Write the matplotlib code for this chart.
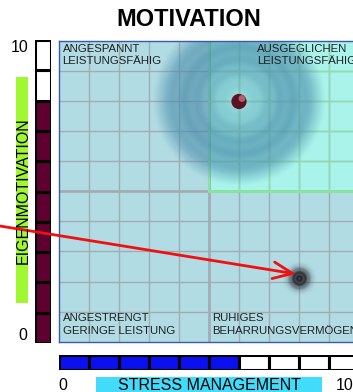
import numpy as np
import matplotlib.pyplot as plt
from matplotlib.patches import Rectangle

plt.rcParams['font.family'] = ['Liberation Sans', 'DejaVu Sans']

# scale values
levels = 10
motivation = 8
stress_management = 6
current = (6.0, 8.0)
target = (8.0, 2.1)
arrow_from = (-1.97, 3.85)
arrow_to = (7.9, 2.25)

top_labels = [
    (0.12, 9.93, "ANGESPANNT\nLEISTUNGSFÄHIG"),
    (6.6, 9.93, "AUSGEGLICHEN\nLEISTUNGSFÄHIG"),
]
bottom_labels = [
    (0.12, 0.2, "ANGESTRENGT\nGERINGE LEISTUNG"),
    (5.1, 0.2, "RUHIGES\nBEHARRUNGSVERMÖGEN"),
]

W, H = 353, 392
fig = plt.figure(figsize=(W / 100, H / 100), dpi=100)


def px_axes(x0, y0, x1, y1, **kw):
    return fig.add_axes([x0 / W, 1 - y1 / H, (x1 - x0) / W, (y1 - y0) / H], **kw)


# main field
ax = px_axes(59, 40, 359, 343, zorder=3)
ax.set_xlim(0, 10)
ax.set_ylim(0, 10)
ax.set_facecolor('#b1dce4')
ax.add_patch(Rectangle((5, 5), 5, 5, facecolor='#a9f3eb', edgecolor='none', zorder=0))
for v in range(1, 10):
    lw = 2.0 if v == 5 else 1.0
    ax.axvline(v, color='#a3acb4', lw=lw, zorder=1)
    ax.axhline(v, color='#a3acb4', lw=lw, zorder=1)
for v in range(6, 10):
    ax.plot([v, v], [5, 10], color='#8fdfae', lw=1.0, zorder=1.5)
    ax.plot([5, 10], [v, v], color='#8fdfae', lw=1.0, zorder=1.5)
ax.plot([5, 10], [5, 5], color='#88e6a0', lw=2.0, zorder=1.6)
ax.plot([5, 5], [5, 10], color='#88e6a0', lw=1.5, zorder=1.6)

# halo around the current position
gx, gy = np.meshgrid(np.linspace(-3, 3, 300), np.linspace(-3, 3, 300))
r = np.hypot(gx, gy * 1.02) / 2.9
alpha = np.clip(0.24 + 0.42 * np.sin(np.clip(r, 0, 1) * np.pi * 0.85) ** 2, 0, 1)
alpha *= (1 + 0.06 * np.cos(r * 40)) * np.clip((1 - r) / 0.15, 0, 1)
halo = np.zeros(r.shape + (4,))
halo[..., 0] = 0.28
halo[..., 1] = 0.54
halo[..., 2] = 0.66
halo[..., 3] = np.clip(alpha, 0, 1)
ax.imshow(halo, extent=(current[0] - 3, current[0] + 3, current[1] - 3, current[1] + 3),
          origin='lower', zorder=2, interpolation='bilinear')
ax.set_aspect('auto')

# target point
tx, ty = np.meshgrid(np.linspace(-0.55, 0.55, 66), np.linspace(-0.55, 0.55, 66))
tr = np.hypot(tx, ty) / 0.45
ring = 0.12 * (np.cos(tr * 20) > 0.3)
spot = np.zeros(tr.shape + (4,))
spot[..., 0] = 0.16 + ring
spot[..., 1] = 0.16 + ring
spot[..., 2] = 0.19 + ring
spot[..., 3] = np.clip(1.1 * np.exp(-(tr / 0.8) ** 3), 0, 1)
ax.imshow(spot, extent=(target[0] - 0.55, target[0] + 0.55, target[1] - 0.55, target[1] + 0.55),
          origin='lower', zorder=4, interpolation='bilinear')

# current position ball
ax.scatter([current[0]], [current[1]], s=120, color='#5c1222', zorder=6, edgecolors='none')
ax.scatter([current[0] + 0.1], [current[1] + 0.1], s=24, color='#b0606a', zorder=7, edgecolors='none')

for x, y, t in top_labels:
    ax.text(x, y, t, fontsize=8.2, va='top', ha='left', color='#202020', linespacing=1.3, zorder=8)
for x, y, t in bottom_labels:
    ax.text(x, y, t, fontsize=8.2, va='bottom', ha='left', color='#202020', linespacing=1.3, zorder=8)

ax.annotate('', xy=arrow_to, xytext=arrow_from, zorder=9,
            arrowprops=dict(arrowstyle='->,head_length=1.4,head_width=0.6', color='#f01010', lw=2.0,
                            shrinkA=0, shrinkB=0))

ax.set_xticks([])
ax.set_yticks([])
for side in ('top', 'left', 'bottom'):
    ax.spines[side].set_color('#3a58b0')
    ax.spines[side].set_linewidth(1.0)
ax.spines['right'].set_visible(False)

# motivation scale
lax = px_axes(35, 40, 51, 343, zorder=1)
lax.set_xlim(0, 1)
lax.set_ylim(0, levels)
for i in range(levels):
    fc = '#5e0030' if i < motivation else 'white'
    lax.add_patch(Rectangle((0, i), 1, 1, facecolor=fc, edgecolor='black', lw=2.2))
lax.axis('off')

# stress management scale
bax = px_axes(59, 355, 359, 370, zorder=1)
bax.set_xlim(0, levels)
bax.set_ylim(0, 1)
for i in range(levels):
    fc = '#0a10f0' if i < stress_management else 'white'
    bax.add_patch(Rectangle((i, 0), 1, 1, facecolor=fc, edgecolor='black', lw=2.2))
bax.axis('off')

# axis captions
fig.patches.append(Rectangle((16 / W, 1 - 303 / H), 12 / W, 226 / H, transform=fig.transFigure,
                             facecolor='#a0f830', edgecolor='none'))
fig.text(23 / W, 1 - 191 / H, 'EIGENMOTIVATION', rotation=90, fontsize=11.5, ha='center', va='center')
fig.patches.append(Rectangle((96 / W, 0), 226 / W, 15 / H, transform=fig.transFigure,
                             facecolor='#42dcfa', edgecolor='none'))
fig.text(209 / W, 1 - 385 / H, 'STRESS MANAGEMENT', fontsize=11.5, ha='center', va='center')

fig.text(19.5 / W, 1 - 48 / H, '10', fontsize=11.5, ha='center', va='center')
fig.text(22.5 / W, 1 - 336 / H, '0', fontsize=11.5, ha='center', va='center')
fig.text(63 / W, 1 - 385 / H, '0', fontsize=11.5, ha='center', va='center')
fig.text(345 / W, 1 - 385 / H, '10', fontsize=11.5, ha='center', va='center')

fig.text(189 / W, 1 - 20 / H, 'MOTIVATION', fontsize=17, fontweight='bold', ha='center', va='center')

fig.savefig('out.png', dpi=100)
